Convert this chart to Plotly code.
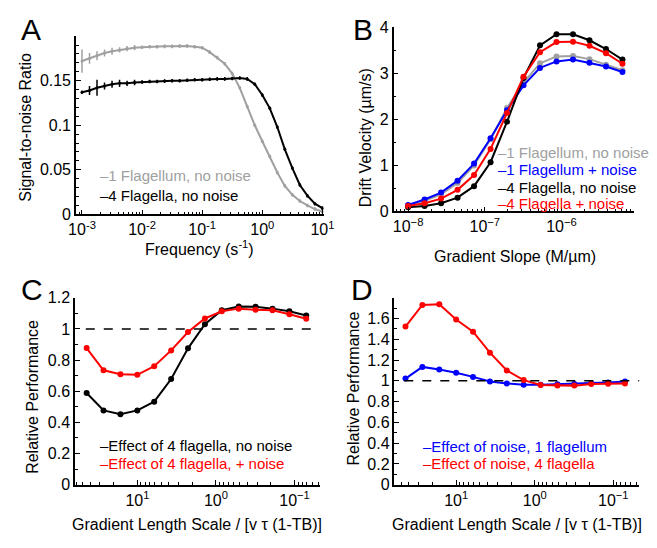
import plotly.graph_objects as go

# ---------------- DATA ----------------
# Panel A: signal-to-noise ratio vs frequency
freq_a = [1.000e-3, 1.334e-3, 1.778e-3, 2.371e-3, 3.162e-3, 4.217e-3, 5.623e-3, 7.499e-3,
          1.000e-2, 1.334e-2, 1.778e-2, 2.371e-2, 3.162e-2, 4.217e-2, 5.623e-2, 7.499e-2,
          1.000e-1, 1.334e-1, 1.778e-1, 2.371e-1, 3.162e-1, 4.217e-1, 5.623e-1, 7.499e-1,
          1.000, 1.334, 1.778, 2.371, 3.162, 4.217, 5.623, 7.499, 10.0]
snr_1flag = [0.172, 0.175, 0.178, 0.181, 0.183, 0.1845, 0.186, 0.187, 0.1875, 0.188, 0.188,
             0.1885, 0.1885, 0.189, 0.189, 0.188, 0.187, 0.182, 0.176, 0.169, 0.158, 0.142,
             0.121, 0.100, 0.082, 0.065, 0.047, 0.032, 0.022, 0.015, 0.010, 0.006, 0.003]
snr_1flag_err = [0.013, 0.006, 0.005, 0.004, 0.004, 0.003, 0.003, 0.003, 0.002, 0.002, 0.002,
                 0.002, 0.002, 0.002, 0.002, 0.002, 0.002, 0.002, 0.002, 0.002, 0.002, 0.002,
                 0.002, 0.002, 0.002, 0.002, 0.002, 0.002, 0.002, 0.002, 0.002, 0.002, 0.002]
snr_4flag = [0.137, 0.139, 0.142, 0.144, 0.146, 0.147, 0.147, 0.148, 0.1485, 0.149, 0.149,
             0.1495, 0.150, 0.150, 0.1505, 0.151, 0.151, 0.1515, 0.152, 0.152, 0.1525, 0.153,
             0.152, 0.146, 0.134, 0.119, 0.098, 0.073, 0.052, 0.033, 0.021, 0.012, 0.007]
snr_4flag_err = [0.002, 0.005, 0.009, 0.004, 0.004, 0.004, 0.003, 0.003, 0.002, 0.002, 0.002,
                 0.002, 0.002, 0.002, 0.002, 0.002, 0.002, 0.002, 0.002, 0.002, 0.002, 0.002,
                 0.002, 0.002, 0.002, 0.002, 0.002, 0.002, 0.002, 0.002, 0.002, 0.002, 0.002]

# Panel B: drift velocity vs gradient slope
slope_b = [1.000e-8, 1.641e-8, 2.692e-8, 4.416e-8, 7.244e-8, 1.189e-7, 1.950e-7,
           3.199e-7, 5.248e-7, 8.610e-7, 1.413e-6, 2.317e-6, 3.802e-6, 6.237e-6]
v_1flag_nonoise = [0.13, 0.23, 0.37, 0.62, 1.00, 1.57, 2.25, 2.80, 3.22, 3.37, 3.38, 3.31, 3.19, 3.07]
v_1flag_noise = [0.14, 0.26, 0.41, 0.67, 1.04, 1.59, 2.20, 2.74, 3.12, 3.26, 3.30, 3.23, 3.15, 3.03]
v_4flag_nonoise = [0.09, 0.12, 0.18, 0.30, 0.55, 1.07, 1.95, 2.90, 3.61, 3.85, 3.85, 3.72, 3.53, 3.30]
v_4flag_noise = [0.12, 0.18, 0.28, 0.47, 0.79, 1.36, 2.14, 2.93, 3.46, 3.68, 3.69, 3.60, 3.44, 3.21]

# Panels C and D: relative performance vs gradient length scale
length_cd = [44.26, 26.98, 16.44, 10.02, 6.11, 3.72, 2.27,
             1.384, 0.8435, 0.514, 0.3134, 0.191, 0.1164, 0.0710]
rel_4flag_nonoise = [0.589, 0.477, 0.452, 0.477, 0.533, 0.678, 0.875,
                     1.03, 1.12, 1.144, 1.142, 1.13, 1.113, 1.086]
rel_4flag_noise = [0.877, 0.734, 0.709, 0.705, 0.761, 0.862, 0.980,
                   1.067, 1.113, 1.13, 1.123, 1.119, 1.094, 1.065]
rel_noise_1flag = [1.022, 1.134, 1.109, 1.078, 1.038, 0.994, 0.975,
                   0.963, 0.963, 0.966, 0.969, 0.978, 0.985, 0.994]
rel_noise_4flag = [1.522, 1.73, 1.737, 1.59, 1.473, 1.271, 1.10,
                   1.007, 0.96, 0.954, 0.954, 0.969, 0.972, 0.975]

# Tick labels
ticks_a_x = [1e-3, 1e-2, 1e-1, 1, 10]
ticklabels_a_x = ["10<sup>-3</sup>", "10<sup>-2</sup>", "10<sup>-1</sup>", "10<sup>0</sup>", "10<sup>1</sup>"]
ticks_a_y = [0, 0.05, 0.1, 0.15]
ticklabels_a_y = ["0", "0.05", "0.1", "0.15"]
ticks_b_x = [1e-8, 1e-7, 1e-6]
ticklabels_b_x = ["10<sup>\u22128</sup>", "10<sup>\u22127</sup>", "10<sup>\u22126</sup>"]
ticks_cd_x = [10, 1, 0.1]
ticklabels_cd_x = ["10<sup>1</sup>", "10<sup>0</sup>", "10<sup>\u22121</sup>"]
ticks_c_y = [0, 0.2, 0.4, 0.6, 0.8, 1, 1.2]
ticks_d_y = [0, 0.2, 0.4, 0.6, 0.8, 1, 1.2, 1.4, 1.6]

# ---------------- FIGURE ----------------
W, H = 657, 548
FONT = "Liberation Sans, Arial, Helvetica, sans-serif"
GRAY = "#a0a0a0"
RED = "#ff0000"
BLUE = "#0000ff"
BLACK = "#000000"


def px_x(p):
    return p / W


def px_y(p):
    return 1 - p / H


def minor_log(e0, e1):
    return [m * 10.0 ** e for e in range(e0, e1) for m in range(2, 10)]


fig = go.Figure()

# Panel A
fig.add_trace(go.Scatter(x=freq_a, y=snr_1flag, mode="lines+markers",
                         line=dict(color=GRAY, width=2), marker=dict(size=3, color=GRAY),
                         error_y=dict(type="data", array=snr_1flag_err, color=GRAY, thickness=1.5, width=0),
                         xaxis="x", yaxis="y", showlegend=False))
fig.add_trace(go.Scatter(x=freq_a, y=snr_4flag, mode="lines+markers",
                         line=dict(color=BLACK, width=2), marker=dict(size=3, color=BLACK),
                         error_y=dict(type="data", array=snr_4flag_err, color=BLACK, thickness=1.5, width=0),
                         xaxis="x", yaxis="y", showlegend=False))

# Panel B
for vals, col in [(v_1flag_nonoise, GRAY), (v_1flag_noise, BLUE), (v_4flag_nonoise, BLACK), (v_4flag_noise, RED)]:
    fig.add_trace(go.Scatter(x=slope_b, y=vals, mode="lines+markers",
                             line=dict(color=col, width=2), marker=dict(size=6, color=col),
                             xaxis="x2", yaxis="y2", showlegend=False))

# Panel C
for vals, col in [(rel_4flag_nonoise, BLACK), (rel_4flag_noise, RED)]:
    fig.add_trace(go.Scatter(x=length_cd, y=vals, mode="lines+markers",
                             line=dict(color=col, width=2), marker=dict(size=6, color=col),
                             xaxis="x3", yaxis="y3", showlegend=False))

# Panel D
for vals, col in [(rel_noise_1flag, BLUE), (rel_noise_4flag, RED)]:
    fig.add_trace(go.Scatter(x=length_cd, y=vals, mode="lines+markers",
                             line=dict(color=col, width=2), marker=dict(size=6, color=col),
                             xaxis="x4", yaxis="y4", showlegend=False))

tickfont = dict(family=FONT, size=16, color="black")
common = dict(showline=True, linecolor="black", linewidth=1.5, ticks="inside", ticklen=5,
              tickwidth=1.2, tickcolor="black", showgrid=False, zeroline=False,
              tickfont=tickfont, mirror=False, ticklabelstandoff=0)
minor_common = dict(ticks="inside", ticklen=3, tickcolor="black", showgrid=False)

fig.update_layout(
    width=W, height=H, margin=dict(l=0, r=0, t=0, b=0),
    paper_bgcolor="white", plot_bgcolor="white",
    font=dict(family=FONT, size=16, color="black"),
    xaxis=dict(domain=[px_x(70), px_x(325)], type="log", range=[-3.1, 1.02],
               tickmode="array", tickvals=ticks_a_x, ticktext=ticklabels_a_x,
               minor=dict(tickmode="array", tickvals=minor_log(-4, 2), **minor_common),
               anchor="y", **common),
    yaxis=dict(domain=[px_y(213), px_y(29)], range=[0, 0.2],
               tickmode="array", tickvals=ticks_a_y, ticktext=ticklabels_a_y,
               minor=dict(dtick=0.01, **minor_common),
               anchor="x", **common),
    xaxis2=dict(domain=[px_x(397), px_x(645)], type="log", range=[-8.19, -5.05],
                tickmode="array", tickvals=ticks_b_x, ticktext=ticklabels_b_x,
                minor=dict(tickmode="array", tickvals=minor_log(-9, -4), **minor_common),
                anchor="y2", **common),
    yaxis2=dict(domain=[px_y(210), px_y(20)], range=[0, 4], dtick=1,
                minor=dict(dtick=0.5, **minor_common),
                anchor="x2", **common),
    xaxis3=dict(domain=[px_x(69), px_x(321)], type="log", range=[1.794, -1.32],
                tickmode="array", tickvals=ticks_cd_x, ticktext=ticklabels_cd_x,
                minor=dict(tickmode="array", tickvals=minor_log(-2, 2), **minor_common),
                anchor="y3", **common),
    yaxis3=dict(domain=[px_y(492), px_y(299)], range=[0, 1.2],
                tickmode="array", tickvals=ticks_c_y, tickformat="~g",
                minor=dict(dtick=0.1, **minor_common),
                anchor="x3", **common),
    xaxis4=dict(domain=[px_x(398), px_x(650)], type="log", range=[1.786, -1.33],
                tickmode="array", tickvals=ticks_cd_x, ticktext=ticklabels_cd_x,
                minor=dict(tickmode="array", tickvals=minor_log(-2, 2), **minor_common),
                anchor="y4", **common),
    yaxis4=dict(domain=[px_y(492), px_y(299)], range=[0, 1.8],
                tickmode="array", tickvals=ticks_d_y, tickformat="~g",
                minor=dict(dtick=0.1, **minor_common),
                anchor="x4", **common),
)

# dashed reference lines at y = 1
for xr, yr, x0 in [("x3 domain", "y3", 0.044), ("x4 domain", "y4", 0.04)]:
    fig.add_shape(type="line", xref=xr, yref=yr, x0=x0, x1=1, y0=1, y1=1,
                  line=dict(color="black", width=1.5, dash="dash"))

ann = []


def text(x, y, s, size=16, color="black", xanchor="center", yanchor="middle", angle=0):
    ann.append(dict(x=px_x(x), y=px_y(y), xref="paper", yref="paper", text=s, showarrow=False,
                    xanchor=xanchor, yanchor=yanchor, textangle=angle,
                    font=dict(family=FONT, size=size, color=color)))


# panel letters
text(11, 22, "A", size=30, xanchor="left")
text(353, 22, "B", size=30, xanchor="left")
text(11, 291, "C", size=30, xanchor="left")
text(351, 290, "D", size=30, xanchor="left")

# axis titles
text(197, 248, "Frequency (s<sup>-1</sup>)")
text(18, 123, "Signal-to-noise Ratio", angle=-90)
text(522, 256, "Gradient Slope (M/\u00b5m)")
text(368, 134, "Drift Velocity (\u00b5m/s)", angle=-90)
text(195, 533, "Gradient Length Scale / [v \u03c4 (1-TB)]")
text(25, 401, "Relative Performance", angle=-90)
text(524, 533, "Gradient Length Scale / [v \u03c4 (1-TB)]")
text(356, 393, "Relative Performance", angle=-90)

# legends
LS = 15
text(93, 173, "\u20131 Flagellum, no noise", size=LS, color=GRAY, xanchor="left")
text(93, 193, "\u20134 Flagella, no noise", size=LS, color=BLACK, xanchor="left")
text(503, 149, "\u20131 Flagellum, no noise", size=LS, color=GRAY, xanchor="left")
text(503, 167, "\u20131 Flagellum + noise", size=LS, color=BLUE, xanchor="left")
text(503, 185, "\u20134 Flagella, no noise", size=LS, color=BLACK, xanchor="left")
text(503, 202, "\u20134 Flagella + noise", size=LS, color=RED, xanchor="left")
text(93, 452, "\u2013Effect of 4 flagella, no noise", size=LS, color=BLACK, xanchor="left")
text(93, 470, "\u2013Effect of 4 flagella, + noise", size=LS, color=RED, xanchor="left")
text(425, 453, "\u2013Effect of noise, 1 flagellum", size=LS, color=BLUE, xanchor="left")
text(425, 470, "\u2013Effect of noise, 4 flagella", size=LS, color=RED, xanchor="left")

fig.update_layout(annotations=ann)
fig.write_html("out.html", config={"displayModeBar": False},
               post_script="document.body.style.margin='0';document.body.style.padding='0';")
